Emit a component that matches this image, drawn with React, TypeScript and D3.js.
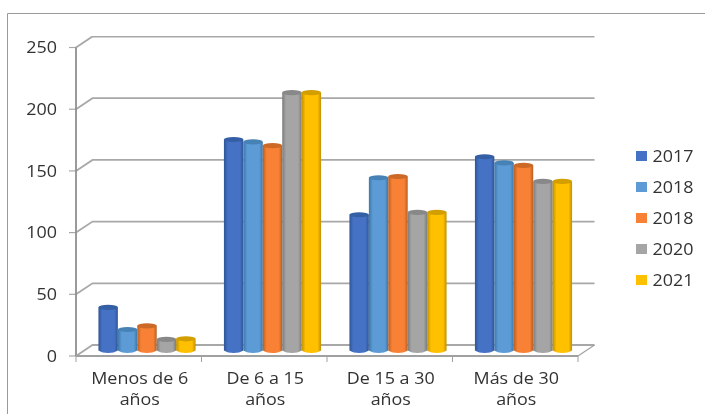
import * as React from 'react';
import * as d3 from 'd3';

const categories = [["Menos de 6", "años"], ["De 6 a 15", "años"], ["De 15 a 30", "años"], ["Más de 30", "años"]];
const seriesNames = ["2017", "2018", "2018 ", "2020", "2021"];
const colours = ["#4472C4", "#5B9BD5", "#F98135", "#A5A5A5", "#FFC000"];
const darks = ["#2F5597", "#3F77A8", "#B85F22", "#7C7C7C", "#BF9000"];
const v2017 = [35, 171, 110, 157];
const v2018a = [17, 169, 140, 152];
const v2018b = [20, 166, 141, 150];
const v2020 = [9, 209, 112, 137];
const v2021 = [9.5, 209, 112, 137];
const values = [v2017, v2018a, v2018b, v2020, v2021];
const yTicks = [0, 50, 100, 150, 200, 250];

const font = "'Open Sans', sans-serif";
const fontSize = 16;
const stretch = 1.12; // the original text is a bit wider than Open Sans
const depthX = 16.5;
const depthY = 11;

const App = () => {
    const x = d3.scaleBand<number>().domain(d3.range(categories.length)).range([76, 578]);
    const y = d3.scaleLinear().domain([0, 250]).range([356, 47.5]);
    const inner = d3.scaleBand<number>().domain(d3.range(seriesNames.length)).range([0, x.bandwidth()]).paddingOuter(0.73).paddingInner(0);

    const barPath = (bx, w, top, base, ry) => {
        let p = d3.path();
        p.moveTo(bx, top);
        p.lineTo(bx, base);
        p.bezierCurveTo(bx + w * 0.25, base + ry * 1.3, bx + w * 0.75, base + ry * 1.3, bx + w, base);
        p.lineTo(bx + w, top);
        p.closePath();
        return p.toString();
    };

    return (
        <svg width={705} height={414} style={{position: "absolute", left: 0, top: 0, fontFamily: font}}>
            <defs>
                {colours.map((c, i) => (
                    <linearGradient key={i} id={"bar" + i} x1="0" x2="1" y1="0" y2="0">
                        <stop offset="0" stopColor={darks[i]} />
                        <stop offset="0.2" stopColor={c} />
                        <stop offset="0.82" stopColor={c} />
                        <stop offset="1" stopColor={darks[i]} />
                    </linearGradient>
                ))}
                <filter id="soft" x="0" y="0" width="100%" height="100%">
                    <feGaussianBlur stdDeviation="0.4" />
                </filter>
            </defs>
            <rect x={0} y={0} width={705} height={414} fill="#fff" />
            <path d="M7.5,414V13.5H705" fill="none" stroke="#9a9a9a" strokeWidth={1} />

            <g filter="url(#soft)">
                {/* walls */}
                {yTicks.map(t => (
                    <g key={t}>
                        <path d={`M76,${y(t)}L${76 + depthX},${y(t) - depthY}H${578 + depthX}`} fill="none" stroke="#a8a8a8" strokeWidth={1.8} />
                        <line x1={69} x2={76} y1={y(t)} y2={y(t)} stroke="#a8a8a8" strokeWidth={1.2} />
                        <text transform={`translate(57,${y(t)}) scale(${stretch},1)`} dy="0.36em" textAnchor="end" fontSize={fontSize} fill="#333">{t}</text>
                    </g>
                ))}
                <line x1={76} x2={76} y1={y(250)} y2={y(0)} stroke="#8f8f8f" strokeWidth={1.8} />
                <line x1={76} x2={578} y1={y(0)} y2={y(0)} stroke="#a0a0a0" strokeWidth={1.8} />
                <line x1={578} x2={578 + depthX} y1={y(0)} y2={y(0) - depthY} stroke="#a0a0a0" strokeWidth={1.2} />
                {d3.range(categories.length + 1).map(i => {
                    let tx = i < categories.length ? x(i) : 578;
                    return <line key={i} x1={tx} x2={tx} y1={y(0)} y2={y(0) + 6} stroke="#a0a0a0" strokeWidth={1} />;
                })}

                {/* bars */}
                {categories.map((c, ci) => (
                    <g key={ci} transform={`translate(${x(ci) + depthX / 2},${-depthY / 2})`}>
                        {seriesNames.map((s, si) => {
                            let bx = inner(si);
                            let w = inner.bandwidth();
                            let top = y(values[si][ci]);
                            return (
                                <g key={si}>
                                    <path d={barPath(bx, w, top, y(0), 2.6)} fill={`url(#bar${si})`} />
                                    <ellipse cx={bx + w / 2} cy={top} rx={w / 2} ry={2.6} fill={d3.interpolateRgb(colours[si], darks[si])(0.7)} />
                                </g>
                            );
                        })}
                    </g>
                ))}

                {/* category labels */}
                {categories.map((c, ci) => c.map((line, li) => (
                    <text key={ci + "-" + li} transform={`translate(${x(ci) + x.bandwidth() / 2 + 1},${384 + li * 20.5}) scale(${stretch},1)`} textAnchor="middle" fontSize={fontSize} fill="#333">{line}</text>
                )))}

                {/* legend */}
                {seriesNames.map((s, i) => (
                    <g key={i} transform={`translate(636,${156 + i * 31})`}>
                        <rect x={0} y={-5} width={11} height={10} fill={colours[i]} />
                        <text transform={`translate(16.5,0) scale(${stretch},1)`} dy="0.36em" fontSize={fontSize} fill="#333">{s.trim()}</text>
                    </g>
                ))}
            </g>
        </svg>
    );
};

export default App;
